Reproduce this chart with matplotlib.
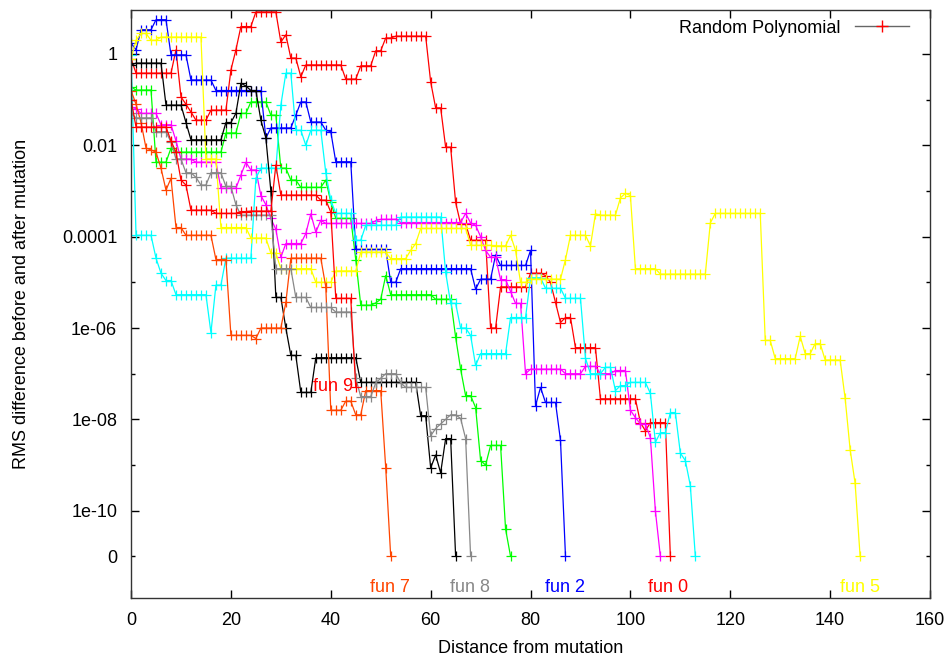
import matplotlib.pyplot as plt
from matplotlib.lines import Line2D
import numpy as np

plt.rcParams['font.family'] = ['Liberation Sans', 'DejaVu Sans']

ZERO = 1e-11  # exact zeros are drawn at this height on the log axis

# Each series is a list of (log10 value, repeat count) runs, starting at distance 0.
# None marks an exact zero.
fun0_runs = [(-0.1, 1), (-0.42, 8), (0.09, 1), (-0.94, 1), (-1.1, 1), (-1.27, 1), (-1.45, 3),
             (-1.23, 4), (-0.35, 1), (0.09, 1), (0.6, 3), (0.92, 5), (0.26, 1), (0.42, 1),
             (-0.09, 2), (-0.5, 1), (-0.24, 8), (-0.55, 3), (-0.26, 3), (0.07, 2), (0.35, 2),
             (0.39, 7), (-0.61, 1), (-1.18, 2), (-2.04, 2), (-3.25, 1), (-3.72, 2), (-4.08, 4),
             (-6.0, 2), (-5.1, 6), (-4.8, 3), (-4.85, 1), (-5.0, 1), (-5.44, 1), (-5.88, 1),
             (-5.77, 2), (-6.43, 5), (-7.55, 8), (-8.07, 1), (-8.25, 1), (-8.07, 4), (None, 1)]
fun1_runs = [(-0.72, 1), (-0.79, 4), (-2.37, 3), (-2.06, 1), (-2.15, 10), (-1.73, 3), (-1.3, 2),
             (-1.05, 4), (-1.34, 2), (-2.5, 2), (-2.76, 2), (-2.92, 5), (-2.76, 1), (-3.24, 1),
             (-3.6, 4), (-4.5, 1), (-5.5, 3), (-5.45, 1), (-5.37, 1), (-4.85, 1), (-5.27, 9),
             (-5.37, 4), (-6.2, 1), (-6.9, 1), (-7.48, 2), (-7.74, 1), (-8.9, 1), (-9.0, 1),
             (-8.57, 3), (-10.4, 1), (None, 1)]
fun2_runs = [(0.24, 1), (0.09, 1), (0.53, 3), (0.75, 3), (-0.02, 4), (-0.57, 5), (-0.8, 10),
             (-1.84, 1), (-1.62, 5), (-1.34, 1), (-1.05, 2), (-1.49, 3), (-1.67, 1), (-1.7, 1),
             (-2.36, 4), (-4.28, 7), (-5.0, 2), (-4.7, 15), (-5.15, 1), (-4.93, 3), (-4.4, 1),
             (-4.63, 6), (-4.3, 1), (-7.7, 1), (-7.3, 1), (-7.63, 3), (-8.46, 1), (None, 1)]
fun3_runs = [(-1.15, 1), (-1.2, 1), (-1.3, 4), (-1.55, 3), (-1.9, 1), (-2.3, 3), (-2.37, 5),
             (-2.94, 4), (-2.65, 1), (-2.37, 1), (-2.54, 2), (-3.1, 1), (-3.3, 1), (-3.6, 1),
             (-3.84, 1), (-4.45, 1), (-4.15, 4), (-3.93, 1), (-3.5, 1), (-3.9, 1), (-3.64, 1),
             (-3.71, 10), (-3.65, 1), (-3.62, 4), (-3.69, 13), (-3.49, 1), (-3.7, 1), (-3.75, 1),
             (-4.0, 1), (-4.3, 1), (-4.45, 2), (-4.94, 2), (-5.2, 1), (-5.46, 2), (-7.0, 1),
             (-6.9, 7), (-7.0, 4), (-6.84, 3), (-7.0, 3), (-6.93, 3), (-7.8, 1), (-7.96, 1),
             (-8.1, 2), (-8.4, 1), (-10.0, 1), (None, 1)]
fun4_runs = [(-0.02, 1), (-3.97, 4), (-4.47, 1), (-4.8, 1), (-4.96, 2), (-5.27, 7), (-6.1, 1),
             (-5.06, 2), (-4.47, 6), (-2.72, 1), (-2.5, 4), (-1.12, 1), (-0.42, 2), (-1.67, 2),
             (-2.0, 1), (-1.67, 3), (-2.6, 1), (-3.2, 1), (-3.49, 4), (-4.08, 2), (-3.75, 7),
             (-3.57, 9), (-4.78, 1), (-5.46, 2), (-6.0, 2), (-6.16, 1), (-6.82, 1), (-6.56, 6),
             (-5.77, 4), (-4.9, 3), (-5.13, 4), (-5.35, 4), (-6.66, 1), (-7.0, 3), (-6.86, 2),
             (-7.37, 1), (-7.26, 2), (-7.19, 4), (-7.43, 1), (-8.5, 1), (-8.29, 2), (-7.85, 2),
             (-8.74, 1), (-8.9, 1), (-9.45, 1), (None, 1)]
fun5_runs = [(-0.1, 1), (0.3, 1), (0.45, 2), (0.3, 2), (0.37, 9), (-2.3, 3), (-3.8, 6),
             (-4.03, 4), (-4.36, 2), (-4.7, 7), (-5.0, 4), (-4.75, 5), (-4.34, 6), (-4.48, 4),
             (-4.3, 1), (-4.15, 1), (-3.82, 10), (-4.19, 5), (-4.2, 3), (-3.97, 1), (-4.3, 1),
             (-5.0, 2), (-4.93, 7), (-4.5, 1), (-3.97, 4), (-4.2, 1), (-3.5, 1), (-3.53, 4),
             (-3.15, 1), (-3.05, 1), (-3.1, 1), (-4.7, 5), (-4.82, 10), (-3.7, 1), (-3.49, 10),
             (-6.27, 2), (-6.67, 5), (-6.18, 1), (-6.56, 2), (-6.34, 2), (-6.7, 4), (-7.54, 1),
             (-8.66, 1), (-9.4, 1), (None, 1)]
fun6_runs = [(-0.24, 1), (-0.2, 6), (-1.12, 4), (-1.5, 1), (-1.88, 7), (-1.5, 2), (-1.3, 1),
             (-0.64, 1), (-0.7, 1), (-0.8, 2), (-1.45, 1), (-1.84, 1), (-3.0, 1), (-5.33, 2),
             (-6.0, 1), (-6.6, 2), (-7.41, 3), (-6.65, 9), (-7.19, 12), (-7.92, 2), (-9.06, 1),
             (-8.78, 1), (-9.17, 1), (-8.42, 2), (None, 1)]
fun7_runs = [(-0.8, 1), (-1.1, 1), (-1.5, 1), (-2.06, 1), (-2.1, 1), (-2.15, 1), (-2.5, 1),
             (-2.98, 1), (-2.72, 1), (-3.8, 2), (-3.97, 6), (-4.5, 3), (-6.16, 5), (-6.23, 1),
             (-6.0, 5), (-5.44, 1), (-4.47, 7), (-5.1, 1), (-7.8, 3), (-7.6, 2), (-7.9, 2),
             (-7.37, 4), (-9.06, 1), (None, 1)]
fun8_runs = [(-1.3, 1), (-1.4, 4), (-1.7, 3), (-1.93, 1), (-2.3, 2), (-2.6, 2), (-2.7, 1),
             (-2.87, 2), (-2.6, 3), (-2.9, 2), (-3.3, 1), (-3.53, 7), (-4.7, 4), (-5.33, 3),
             (-5.55, 5), (-5.65, 4), (-7.1, 1), (-7.5, 3), (-7.2, 1), (-7.1, 1), (-7.0, 3),
             (-7.2, 1), (-7.3, 5), (-8.36, 1), (-8.2, 1), (-8.1, 1), (-8.0, 1), (-7.9, 2),
             (-7.98, 1), (-8.42, 1), (None, 1)]
fun9_runs = [(-1.0, 1), (-1.6, 7), (-1.9, 1), (-2.15, 1), (-2.76, 1), (-2.87, 1), (-3.42, 5),
             (-3.49, 5), (-3.45, 2), (-3.44, 5), (-2.43, 1), (-3.09, 8), (-3.2, 2), (-3.46, 1),
             (-5.35, 4), (-7.3, 1)]

series_runs = [fun0_runs, fun1_runs, fun2_runs, fun3_runs, fun4_runs,
               fun5_runs, fun6_runs, fun7_runs, fun8_runs, fun9_runs]
series_colors = ['#ff0000', '#00ff00', '#0000ff', '#ff00ff', '#00ffff',
                 '#ffff00', '#000000', '#ff4500', '#888888', '#ff0000']

# end-of-run labels: (text, series index, x, log10 y)
end_labels = [('fun 7', 7, 51.9, -11.69), ('fun 8', 8, 67.9, -11.69), ('fun 2', 2, 86.9, -11.69),
              ('fun 0', 0, 107.6, -11.69), ('fun 5', 5, 146.0, -11.69), ('fun 9', 9, 40.4, -7.29)]

y_major = [1e0, 1e-2, 1e-4, 1e-6, 1e-8, 1e-10]
y_major_labels = ['1', '0.01', '0.0001', '1e-06', '1e-08', '1e-10']
y_minor = [1e-1, 1e-3, 1e-5, 1e-7, 1e-9, ZERO]
y_minor_labels = ['', '', '', '', '', '0']


def expand(runs):
    vals = []
    for v, n in runs:
        vals += [v] * n
    y = np.array([ZERO if v is None else 10.0 ** v for v in vals])
    return np.arange(len(y)), y


fig = plt.figure(figsize=(9.53, 6.58), dpi=100)
ax = fig.add_axes([0.1375, 0.0912, 0.8384, 0.8936])

for runs, color in zip(series_runs, series_colors):
    x, y = expand(runs)
    ax.plot(x, y, color=color, lw=0.9, marker='+', ms=7, mew=0.9)

for text, idx, lx, ly in end_labels:
    ax.text(lx, 10 ** ly, text, color=series_colors[idx], fontsize=13,
            ha='center', va='center')

ax.set_yscale('log')
ax.set_xlim(0, 160)
ax.set_ylim(10 ** -11.91, 10 ** 0.963)
ax.set_xticks(np.arange(0, 161, 20))
ax.set_yticks(y_major, y_major_labels)
ax.set_yticks(y_minor, y_minor_labels, minor=True)
ax.tick_params(which='both', direction='in', top=True, right=True, labelsize=13)
ax.tick_params(axis='y', which='both', pad=10)
ax.tick_params(axis='x', which='both', pad=10)
ax.tick_params(which='major', length=6, width=1)
ax.tick_params(which='minor', length=3, width=1)
for s in ax.spines.values():
    s.set_linewidth(1)
    s.set_color('#333333')

ax.set_xlabel('Distance from mutation', fontsize=13, labelpad=8)
ax.set_ylabel('RMS difference before and after mutation', fontsize=13, labelpad=23)

handle = Line2D([], [], color='#666666', lw=1, marker='+', ms=8, mew=1, markeredgecolor='red')
ax.legend([handle], ['Random Polynomial'], loc='upper right', frameon=False, fontsize=13,
          markerfirst=False, handlelength=3.0, borderaxespad=0.3,
          bbox_to_anchor=(0.99, 1.005))

fig.savefig('out.png', dpi=100)
